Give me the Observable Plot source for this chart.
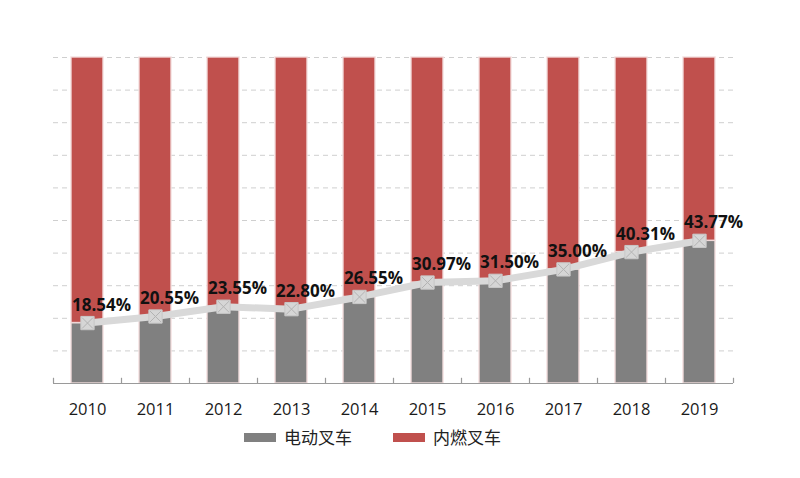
<!DOCTYPE html>
<html>
<head>
<meta charset="utf-8">
<script src="https://cdn.jsdelivr.net/npm/d3@7"></script>
<script src="https://cdn.jsdelivr.net/npm/@observablehq/plot@0.6"></script>
<style>
  body { margin: 0; background: #fff; width: 800px; height: 478px; overflow: hidden; }
  #chart { position: relative; width: 800px; }
  .legend { position: relative; height: 40px; font-family: "Noto Sans CJK SC", sans-serif; font-size: 17px; color: #222; }
  .item { position: absolute; top: -1px; display: flex; align-items: center; gap: 8px; line-height: 26px; }
  .sw { width: 32px; height: 9px; display: inline-block; }
</style>
</head>
<body>
<div id="chart"></div>
<div class="legend">
  <div class="item" style="left:244px"><span class="sw" style="background:#808080"></span><span id="l0"></span></div>
  <div class="item" style="left:393px"><span class="sw" style="background:#C0504D"></span><span id="l1"></span></div>
</div>
<script>
const years = ["2010","2011","2012","2013","2014","2015","2016","2017","2018","2019"];
const electricShare = [18.54, 20.55, 23.55, 22.80, 26.55, 30.97, 31.50, 35.00, 40.31, 43.77];
const seriesNames = ["电动叉车", "内燃叉车"];
const gridValues = [10, 20, 30, 40, 50, 60, 70, 80, 90, 100];

document.getElementById("l0").textContent = seriesNames[0];
document.getElementById("l1").textContent = seriesNames[1];

const rows = years.map((y, i) => ({year: y, share: electricShare[i]}));
const stacked = [];
years.forEach((y, i) => {
  stacked.push({year: y, series: seriesNames[0], value: electricShare[i]});
  stacked.push({year: y, series: seriesNames[1], value: 100 - electricShare[i]});
});

const W = 800, H = 425, mL = 53, mR = 67, mT = 57, mB = 42;
const step = (W - mL - mR) / years.length;

const chart = Plot.plot({
  width: W, height: H,
  marginLeft: mL, marginRight: mR, marginTop: mT, marginBottom: mB,
  x: {domain: years, paddingInner: 0.53, paddingOuter: 0.265, label: null, tickSize: 0, tickPadding: 20},
  y: {domain: [0, 100], axis: null},
  color: {domain: seriesNames, range: ["#808080", "#C0504D"]},
  style: {fontFamily: "Open Sans, Liberation Sans, sans-serif", fontSize: "16.5px", color: "#1a1a1a", background: "#fff"},
  marks: [
    Plot.ruleY(gridValues, {y: d => d, stroke: "#cfcfcf", strokeDasharray: "5,4", strokeWidth: 1}),
    Plot.barY(stacked, Plot.stackY({x: "year", y: "value", fill: "series", order: seriesNames, stroke: "#f3dede", strokeWidth: 1.5, strokeOpacity: 0.9})),
    Plot.ruleY([0], {stroke: "#9a9a9a", strokeWidth: 1.2}),
    Plot.ruleX(years, {x: d => d, dx: -step / 2, y1: 0, y2: 1.6, stroke: "#9a9a9a", strokeWidth: 1.2}),
    Plot.ruleX(years.slice(-1), {x: d => d, dx: step / 2, y1: 0, y2: 1.6, stroke: "#9a9a9a", strokeWidth: 1.2}),
    Plot.lineY(rows, {x: "year", y: "share", stroke: "#d9d9d9", strokeWidth: 7, curve: "linear"}),
    Plot.dot(rows, {x: "year", y: "share", symbol: "square", r: 7.5, fill: "#d6d6d6", stroke: "#c8c8c8", strokeWidth: 1}),
    Plot.dot(rows, {x: "year", y: "share", symbol: "times", r: 5, stroke: "#b3b3b3", strokeWidth: 1}),
    Plot.text(rows, {x: "year", y: "share", text: d => d.share.toFixed(2) + "%", dx: 14, dy: -18,
      fontWeight: "bold", fontSize: 17, fontFamily: "Open Sans, sans-serif", fill: "#111"})
  ]
});
document.getElementById("chart").appendChild(chart);
</script>
</body>
</html>
